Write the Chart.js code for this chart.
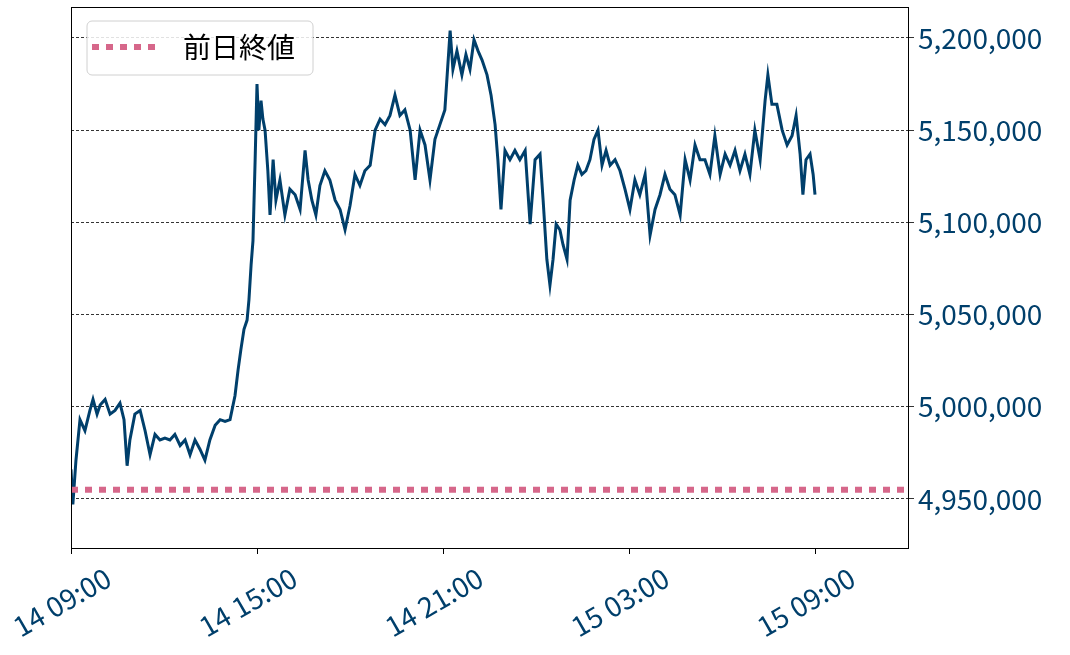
<!DOCTYPE html>
<html>
<head>
<meta charset="utf-8">
<script src="https://cdn.jsdelivr.net/npm/chart.js@4.4.1/dist/chart.umd.min.js"></script>
<style>
  html, body { margin: 0; padding: 0; background: #fff; }
  #wrap { width: 1070px; height: 655px; }
</style>
</head>
<body>
<div id="wrap"><canvas id="chart"></canvas></div>
<script>
// hours after 14 09:00
const hours = [0,0.06,0.16,0.29,0.45,0.61,0.71,0.84,0.94,1.10,1.26,1.42,1.58,1.71,1.81,1.90,2.06,2.23,2.39,2.55,2.71,2.87,3.03,3.19,3.35,3.52,3.68,3.84,4.00,4.16,4.32,4.48,4.65,4.81,4.97,5.13,5.29,5.39,5.48,5.58,5.68,5.74,5.81,5.87,5.94,6.00,6.06,6.13,6.19,6.26,6.35,6.42,6.52,6.61,6.74,6.90,7.06,7.23,7.39,7.55,7.65,7.77,7.90,8.03,8.19,8.35,8.52,8.68,8.84,9.00,9.16,9.32,9.48,9.65,9.81,9.97,10.13,10.29,10.45,10.61,10.77,10.94,11.10,11.26,11.42,11.58,11.74,11.90,12.06,12.23,12.32,12.45,12.61,12.74,12.87,13.00,13.13,13.26,13.42,13.55,13.68,13.77,13.87,14.00,14.16,14.32,14.48,14.65,14.81,14.97,15.13,15.23,15.35,15.45,15.55,15.65,15.77,15.87,16.00,16.10,16.23,16.35,16.48,16.61,16.74,16.87,17.00,17.13,17.26,17.39,17.55,17.71,17.87,18.03,18.19,18.35,18.52,18.68,18.84,19.00,19.16,19.32,19.48,19.65,19.81,19.97,20.13,20.29,20.45,20.61,20.77,20.94,21.10,21.26,21.42,21.58,21.74,21.90,22.06,22.23,22.39,22.48,22.61,22.77,22.94,23.10,23.26,23.39,23.52,23.61,23.71,23.84,23.94,24.00];
// price in thousands
const prices = [4966,4947,4971,4993,4987,4998,5004,4996,5001,5004,4996,4998,5002,4993,4968,4982,4996,4998,4987,4974,4985,4982,4983,4982,4985,4979,4982,4974,4982,4977,4971,4982,4990,4993,4992,4993,5006,5020,5031,5042,5047,5058,5077,5090,5134,5175,5150,5166,5156,5150,5128,5104,5134,5112,5123,5104,5118,5115,5107,5139,5123,5112,5104,5120,5128,5123,5112,5107,5096,5109,5126,5120,5128,5131,5150,5156,5153,5158,5169,5158,5161,5150,5123,5150,5142,5123,5145,5153,5161,5204,5183,5193,5180,5191,5183,5199,5193,5188,5180,5169,5153,5134,5107,5139,5134,5139,5134,5139,5099,5134,5137,5112,5080,5066,5080,5099,5096,5088,5080,5112,5123,5131,5126,5128,5134,5145,5150,5131,5139,5131,5134,5128,5118,5107,5123,5115,5126,5093,5107,5115,5126,5118,5115,5104,5134,5123,5142,5134,5134,5126,5147,5126,5137,5131,5139,5128,5137,5126,5150,5134,5166,5180,5164,5164,5150,5142,5147,5158,5137,5115,5134,5137,5126,5115];
const prevClose = 4955000;
const xTickHours = [0, 6, 12, 18, 24];
const xTickLabels = ['14 09:00', '14 15:00', '14 21:00', '15 03:00', '15 09:00'];
const yTicks = [4950000, 5000000, 5050000, 5100000, 5150000, 5200000];
const legendLabel = '前日終値';

const FONT = "'Noto Sans CJK JP', 'Noto Sans', sans-serif";
const BLUE = '#003f6b';
const PINK = '#d6678a';

const lineData = hours.map((h, i) => ({ x: h, y: prices[i] * 1000 }));

const overlay = {
    id: 'overlay',
    afterDraw(chart) {
        const ctx = chart.ctx;
        const a = chart.chartArea;
        const xs = chart.scales.x;
        ctx.save();
        // frame
        ctx.strokeStyle = '#000';
        ctx.lineWidth = 1;
        ctx.strokeRect(a.left + 0.5, a.top + 0.5, a.right - a.left, a.bottom - a.top);
        // rotated x labels
        ctx.fillStyle = BLUE;
        ctx.font = '28px ' + FONT;
        ctx.textAlign = 'center';
        ctx.textBaseline = 'middle';
        xTickHours.forEach((h, i) => {
            const px = xs.getPixelForValue(h);
            ctx.save();
            ctx.translate(px - 9, a.bottom + 54);
            ctx.rotate(-Math.PI / 6);
            ctx.fillText(xTickLabels[i], 0, 0);
            ctx.restore();
        });
        // legend box
        const lx = a.left + 16, ly = a.top + 14, lw = 226, lh = 54;
        ctx.beginPath();
        ctx.roundRect(lx, ly, lw, lh, 5);
        ctx.fillStyle = 'rgba(255,255,255,0.85)';
        ctx.fill();
        ctx.strokeStyle = '#d0d0d0';
        ctx.lineWidth = 1;
        ctx.stroke();
        ctx.strokeStyle = PINK;
        ctx.lineWidth = 6;
        ctx.setLineDash([7, 7]);
        ctx.beginPath();
        ctx.moveTo(lx + 5, ly + 26);
        ctx.lineTo(lx + 75, ly + 26);
        ctx.stroke();
        ctx.setLineDash([]);
        ctx.fillStyle = '#000';
        ctx.font = '28px ' + FONT;
        ctx.textAlign = 'left';
        ctx.fillText(legendLabel, lx + 96, ly + 26);
        ctx.restore();
    }
};

new Chart(document.getElementById('chart'), {
    type: 'line',
    data: {
        datasets: [
            {
                data: [{ x: 0, y: prevClose }, { x: 27, y: prevClose }],
                borderColor: PINK,
                borderWidth: 6,
                borderDash: [7, 7],
                pointRadius: 0
            },
            {
                data: lineData,
                borderColor: BLUE,
                borderWidth: 3,
                pointRadius: 0,
                tension: 0
            }
        ]
    },
    options: {
        responsive: true,
        maintainAspectRatio: false,
        animation: false,
        layout: { padding: { left: 71, top: 7, right: 0, bottom: 0 } },
        plugins: { legend: { display: false }, tooltip: { enabled: false } },
        scales: {
            x: {
                type: 'linear',
                min: 0,
                max: 27,
                afterBuildTicks: s => { s.ticks = xTickHours.map(v => ({ value: v })); },
                afterFit: s => { s.height = 107; s.paddingLeft = 0; s.paddingRight = 0; },
                grid: { drawOnChartArea: false, drawTicks: true, tickLength: 6, color: '#000' },
                border: { display: false },
                ticks: { display: false }
            },
            y: {
                position: 'right',
                min: 4923400,
                max: 5216800,
                afterBuildTicks: s => { s.ticks = yTicks.map(v => ({ value: v })); },
                afterFit: s => { s.width = 162; s.paddingTop = 0; s.paddingBottom = 0; },
                grid: { color: '#000', lineWidth: 0.8, tickLength: 6 },
                border: { display: false, dash: [3, 2] },
                ticks: {
                    color: BLUE,
                    font: { family: FONT, size: 28 },
                    padding: 4,
                    callback: v => v.toLocaleString('en-US')
                }
            }
        }
    },
    plugins: [overlay]
});
</script>
</body>
</html>
